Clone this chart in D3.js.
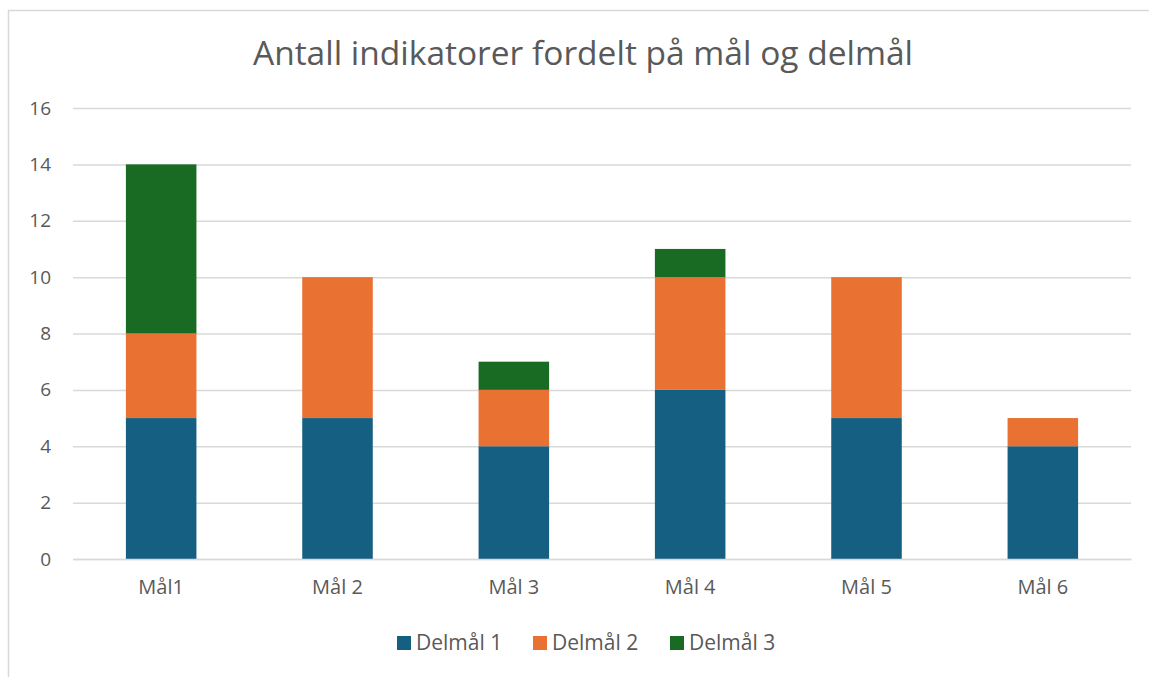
<!DOCTYPE html>
<html><head><meta charset="utf-8">
<script src="https://cdn.jsdelivr.net/npm/d3@7"></script>
<style>body{margin:0;background:#fff}svg{display:block}text{font-family:"Open Sans",sans-serif;fill:#595959}</style>
</head><body><svg id="c" width="1149" height="677"></svg>
<script>
const categories = ["Mål1","Mål 2","Mål 3","Mål 4","Mål 5","Mål 6"];
const seriesNames = ["Delmål 1","Delmål 2","Delmål 3"];
const delmal1 = [5,5,4,6,5,4];
const delmal2 = [3,5,2,4,5,1];
const delmal3 = [6,0,1,1,0,0];
const colors = ["#156082","#E97132","#196B24"];
const yTicks = [0,2,4,6,8,10,12,14,16];

const svg = d3.select("#c");
svg.append("rect").attr("x",8.5).attr("y",10.5).attr("width",1200).attr("height",800)
  .attr("fill","#fff").attr("stroke","#d9d9d9").attr("stroke-width",1.5);

const m = {l:73,r:1131,t:108,b:559};
const x = d3.scaleBand().domain(categories).range([m.l,m.r]).paddingInner(0.6).paddingOuter(0.3);
const y = d3.scaleLinear().domain([0,16]).range([m.b,m.t]);

svg.append("text").attr("x",583).attr("y",65).attr("text-anchor","middle")
  .style("font-size","33.5px").text("Antall indikatorer fordelt på mål og delmål");

const yAxis = svg.append("g").attr("transform",`translate(${m.l},0)`)
  .call(d3.axisLeft(y).tickValues(yTicks).tickSize(-(m.r-m.l)).tickPadding(22));
yAxis.select(".domain").remove();
yAxis.selectAll(".tick line").attr("stroke","#d9d9d9").attr("stroke-width",1.5);
yAxis.selectAll(".tick text").style("font-size","19px").attr("fill","#595959");

const data = categories.map((c,i)=>({cat:c,"Delmål 1":delmal1[i],"Delmål 2":delmal2[i],"Delmål 3":delmal3[i]}));
const stack = d3.stack().keys(seriesNames)(data);
svg.append("g").selectAll("g").data(stack).join("g").attr("fill",(d,i)=>colors[i])
  .selectAll("rect").data(d=>d).join("rect")
  .attr("x",d=>x(d.data.cat)).attr("width",x.bandwidth())
  .attr("y",d=>y(d[1])).attr("height",d=>y(d[0])-y(d[1]));

const xAxis = svg.append("g").attr("transform",`translate(0,${m.b})`)
  .call(d3.axisBottom(x).tickSize(0).tickPadding(21));
xAxis.select(".domain").attr("stroke","#d9d9d9").attr("stroke-width",1.5);
xAxis.selectAll(".tick text").style("font-size","20px").attr("fill","#595959");

const leg = svg.append("g");
const lx = [397,533,670];
seriesNames.forEach((s,i)=>{
  leg.append("rect").attr("x",lx[i]).attr("y",636).attr("width",14).attr("height",14).attr("fill",colors[i]);
  leg.append("text").attr("x",lx[i]+19).attr("y",650).style("font-size","21px").text(s);
});
</script></body></html>
